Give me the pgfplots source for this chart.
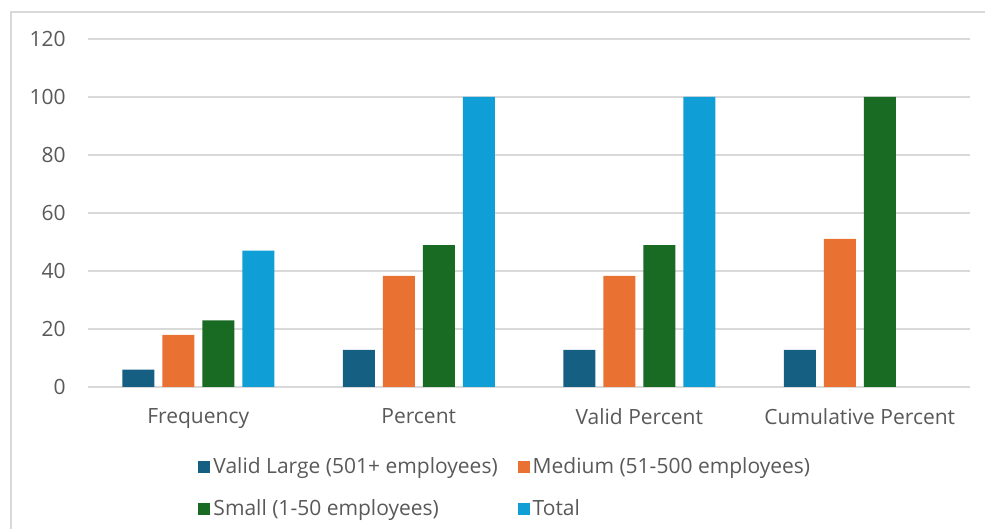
\documentclass[border=0pt]{standalone}
\usepackage{fontspec}
\setmainfont{Open Sans}
\usepackage{pgfplots}
\pgfplotsset{compat=1.18}
\definecolor{cLarge}{HTML}{156082}
\definecolor{cMed}{HTML}{E97132}
\definecolor{cSmall}{HTML}{196B24}
\definecolor{cTotal}{HTML}{0F9ED5}
\definecolor{gridc}{HTML}{D9D9D9}
\definecolor{txt}{HTML}{595959}
\definecolor{framec}{HTML}{D9D9D9}
\begin{document}
\begin{tikzpicture}[x=1pt,y=1pt]
\useasboundingbox (0,0) rectangle (492.5,264.5);
\draw[framec, line width=1pt] (5.5,0) -- (5.5,258.5) -- (492.5,258.5);
\begin{axis}[
  at={(44pt,71pt)}, anchor=south west,
  scale only axis, width=441pt, height=174pt,
  ybar=4pt, bar width=16pt,
  xmin=-0.5, xmax=3.5, ymin=0, ymax=120,
  xtick={0,1,2,3},
  xticklabels={Frequency, Percent, Valid Percent, Cumulative Percent},
  ytick={0,20,40,60,80,100,120},
  axis line style={draw=none},
  major tick length=0pt,
  ymajorgrids, grid style={gridc, line width=0.8pt},
  /pgf/number format/assume math mode=true,
  tick label style={font=\fontsize{10.5}{12.5}\selectfont, text=txt},
  yticklabel style={anchor=east, inner sep=0pt, xshift=-11pt},
  xticklabel style={anchor=north, inner sep=0pt, yshift=-10.5pt},
  legend columns=2,
  legend cell align=left,
  legend image code/.code={\fill[#1] (0pt,-3pt) rectangle (6pt,3pt);},
  legend style={at={(0.4737,-0.2900)}, anchor=center, draw=none, fill=none,
    font=\fontsize{10.5}{12.5}\selectfont, text=txt, row sep=8.5pt,
    /tikz/every even column/.append style={column sep=8.5pt},
    nodes={inner sep=1.5pt}},
]
\addplot[fill=cLarge, draw=none] coordinates {(0,6) (1,12.8) (2,12.8) (3,12.8)};
\addplot[fill=cMed, draw=none] coordinates {(0,18) (1,38.3) (2,38.3) (3,51.1)};
\addplot[fill=cSmall, draw=none] coordinates {(0,23) (1,48.9) (2,48.9) (3,100)};
\addplot[fill=cTotal, draw=none] coordinates {(0,47) (1,100) (2,100)};
\legend{Valid Large (501+ employees), Medium (51-500 employees), Small (1-50 employees), Total}
\end{axis}
\end{tikzpicture}
\end{document}
